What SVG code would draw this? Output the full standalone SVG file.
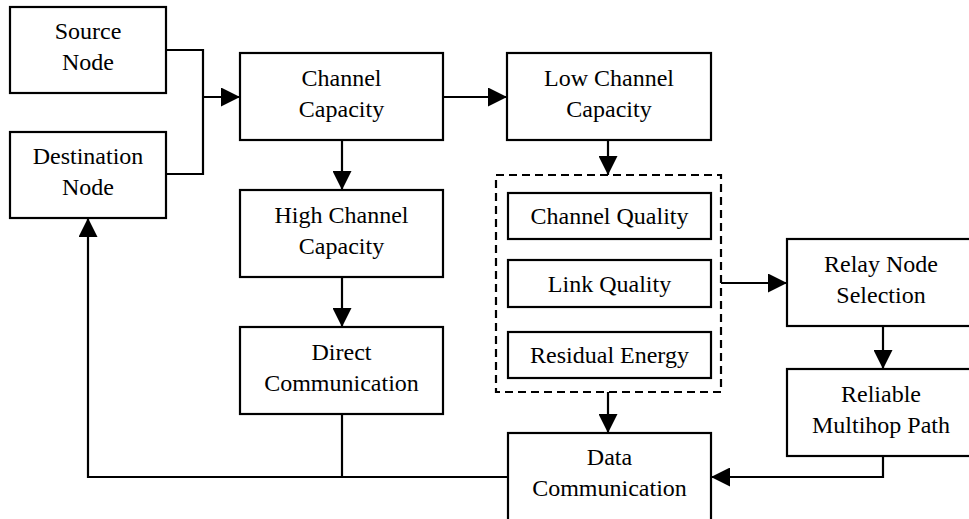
<svg xmlns="http://www.w3.org/2000/svg" width="969" height="519" viewBox="0 0 969 519">
<style>
.box{fill:#fff;stroke:#000;stroke-width:2.2}
.dash{fill:none;stroke:#000;stroke-width:2.2;stroke-dasharray:8 5}
.con{fill:none;stroke:#000;stroke-width:2.2}
.arr{fill:none;stroke:#000;stroke-width:2.2;marker-end:url(#ah)}
text{font-family:"Liberation Serif","Times New Roman",serif;font-size:24px;fill:#000;text-anchor:middle}
</style>
<defs>
<marker id="ah" markerUnits="userSpaceOnUse" markerWidth="19" markerHeight="19" refX="19" refY="9.5" orient="auto">
<path d="M0,0 L19,9.5 L0,19 z" fill="#000"/>
</marker>
</defs>
<rect width="969" height="519" fill="#fff"/>
<g id="connectors">
<path class="con" d="M166,50 H203 V174 H166"/>
<path class="arr" d="M203,97 H240"/>
<path class="arr" d="M342,140 V190"/>
<path class="arr" d="M342,277 V327"/>
<path class="arr" d="M443,97 H507"/>
<path class="arr" d="M608,140 V175"/>
<path class="arr" d="M608,392 V433"/>
<path class="arr" d="M721,283 H787"/>
<path class="arr" d="M883,326 V369"/>
<path class="arr" d="M883,456 V477 H711"/>
<path class="con" d="M342,414 V477"/>
<path class="arr" d="M508,477 H88 V218"/>
</g>
<g id="source"><rect class="box" x="10" y="7" width="156" height="86"/><text x="88" y="39">Source</text><text x="88" y="70">Node</text></g>
<g id="destination"><rect class="box" x="10" y="132" width="156" height="86"/><text x="88" y="164">Destination</text><text x="88" y="195">Node</text></g>
<g id="channel-capacity"><rect class="box" x="240" y="53" width="203" height="87"/><text x="341.5" y="85.5">Channel</text><text x="341.5" y="116.5">Capacity</text></g>
<g id="high-channel"><rect class="box" x="240" y="190" width="203" height="87"/><text x="341.5" y="222.5">High Channel</text><text x="341.5" y="253.5">Capacity</text></g>
<g id="direct"><rect class="box" x="240" y="327" width="203" height="87"/><text x="341.5" y="359.5">Direct</text><text x="341.5" y="390.5">Communication</text></g>
<g id="low-channel"><rect class="box" x="507" y="53" width="204" height="87"/><text x="609" y="85.5">Low Channel</text><text x="609" y="116.5">Capacity</text></g>
<g id="metrics"><rect class="dash" x="496" y="175" width="225" height="217"/></g>
<g id="channel-quality"><rect class="box" x="508" y="193" width="203" height="46"/><text x="609.5" y="224">Channel Quality</text></g>
<g id="link-quality"><rect class="box" x="508" y="260" width="203" height="47"/><text x="609.5" y="291.5">Link Quality</text></g>
<g id="residual-energy"><rect class="box" x="508" y="332" width="203" height="46"/><text x="609.5" y="363">Residual Energy</text></g>
<g id="relay"><rect class="box" x="787" y="239" width="190" height="87"/><text x="881" y="271.5">Relay Node</text><text x="881" y="302.5">Selection</text></g>
<g id="reliable"><rect class="box" x="787" y="369" width="190" height="87"/><text x="881" y="401.5">Reliable</text><text x="881" y="432.5">Multihop Path</text></g>
<g id="data"><rect class="box" x="508" y="433" width="203" height="90"/><text x="609.5" y="465">Data</text><text x="609.5" y="496">Communication</text></g>
</svg>
